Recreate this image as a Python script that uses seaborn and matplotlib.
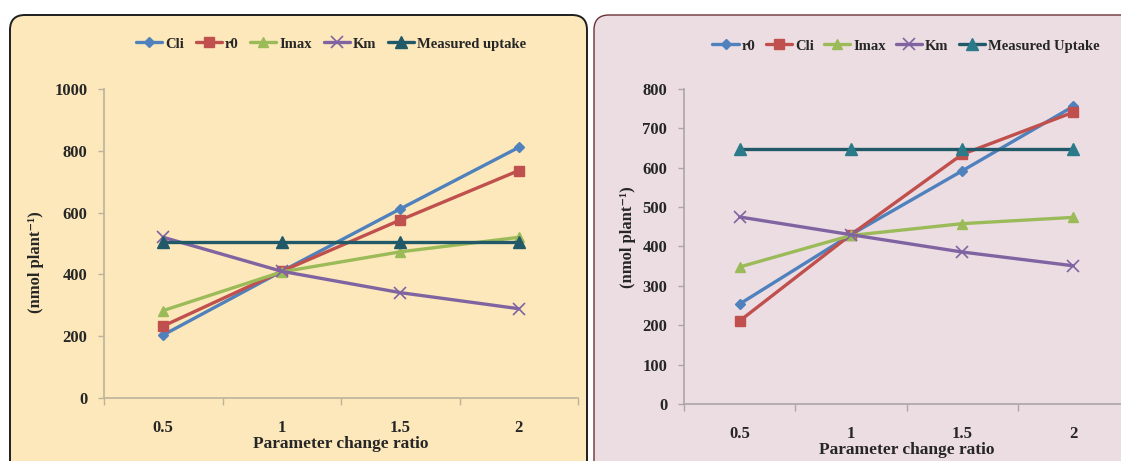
import numpy as np
import pandas as pd
import seaborn as sns
import matplotlib.pyplot as plt
from matplotlib.patches import FancyBboxPatch

# values
ratio_labels = ["0.5", "1", "1.5", "2"]

# left chart
left_cli = [204, 410, 612, 811]
left_r0 = [233, 410, 576, 736]
left_imax = [283, 408, 473, 520]
left_km = [520, 410, 341, 289]
left_measured = [505, 505, 505, 505]

# right chart
right_r0 = [254, 430, 592, 756]
right_cli = [211, 430, 634, 741]
right_imax = [348, 428, 458, 474]
right_km = [475, 430, 386, 351]
right_measured = [647, 647, 647, 647]

sns.set_theme(style="white")
plt.rcParams["font.family"] = ["Liberation Serif", "DejaVu Serif"]
plt.rcParams["font.weight"] = "bold"

W, H = 1121, 461
fig = plt.figure(figsize=(W / 100, H / 100), dpi=100)
fig.patch.set_facecolor("white")

# the two rounded panels behind the charts
fig.patches.append(FancyBboxPatch((0.10, -0.3), 5.77, 4.76,
                                  boxstyle="round,pad=0,rounding_size=0.15",
                                  transform=fig.dpi_scale_trans,
                                  facecolor="#FDE8BB", edgecolor="#1E1E1E", linewidth=1.4, zorder=-5))
fig.patches.append(FancyBboxPatch((5.94, -0.3), 6.0, 4.76,
                                  boxstyle="round,pad=0,rounding_size=0.15",
                                  transform=fig.dpi_scale_trans,
                                  facecolor="#ECDDE3", edgecolor="#6B3338", linewidth=1.0, zorder=-5))

blue, red, green, purple = "#4F81BD", "#C0504D", "#9BBB59", "#8064A2"
teal = "#215968"


def draw(ax, series, ymax, ystep, spine_col, legend_pos, colspacing):
    pos = np.arange(len(ratio_labels))
    for name, vals, col, mk, ms, mfc in series:
        df = pd.DataFrame({"x": pos, "y": vals})
        sns.lineplot(data=df, x="x", y="y", ax=ax, color=col, linewidth=2.4,
                     marker=mk, markersize=ms, markerfacecolor=mfc, markeredgecolor=mfc,
                     markeredgewidth=1.0 if mk != "x" else 1.2, label=name)
    ax.set_facecolor("none")
    ax.set_xlim(-0.5, len(ratio_labels) - 0.5)
    ax.set_ylim(0, ymax)
    ax.set_yticks(np.arange(0, ymax + 1, ystep))
    ax.set_xticks(pos)
    ax.set_xticklabels(ratio_labels)
    ax.set_xticks(np.arange(-0.5, len(ratio_labels), 1), minor=True)
    ax.tick_params(axis="x", which="major", length=0, pad=16, labelsize=12)
    ax.tick_params(axis="x", which="minor", length=5, width=1, color=spine_col, direction="out", bottom=True)
    ax.tick_params(axis="y", which="major", length=4, width=1, color=spine_col, left=True, pad=8, labelsize=12)
    for lbl in ax.get_xticklabels() + ax.get_yticklabels():
        lbl.set_fontweight("bold")
    sns.despine(ax=ax, top=True, right=True)
    for s in ("left", "bottom"):
        ax.spines[s].set_color(spine_col)
        ax.spines[s].set_linewidth(1.2)
    ax.set_xlabel("Parameter change ratio", fontsize=12.5, fontweight="bold", labelpad=0)
    ax.set_ylabel("(nmol plant\u207b\u00b9)", fontsize=12, fontweight="bold")
    leg = ax.legend(loc="center", bbox_to_anchor=legend_pos, bbox_transform=fig.transFigure,
                    ncol=5, frameon=False, fontsize=10.5, handlelength=1.8, handletextpad=0.2,
                    columnspacing=colspacing)
    for t in leg.get_texts():
        t.set_fontweight("bold")


ax1 = fig.add_axes([104 / W, 1 - 398 / H, (578 - 104) / W, (398 - 89) / H])
draw(ax1, [
    ("Cli", left_cli, blue, "D", 5, blue),
    ("r0", left_r0, red, "s", 7.5, red),
    ("Imax", left_imax, green, "^", 7.5, green),
    ("Km", left_km, purple, "x", 8, purple),
    ("Measured uptake", left_measured, teal, "^", 8, teal),
], 1000, 200, "#BDB39B", (331 / W, 1 - 44 / H), 0.8)
ax1.yaxis.set_label_coords(-(104 - 44) / (578 - 104), 0.44)
ax1.xaxis.set_label_coords(0.5, -(436 - 398) / (398 - 89))

ax2 = fig.add_axes([684 / W, 1 - 404 / H, (1129 - 684) / W, (404 - 89) / H])
draw(ax2, [
    ("r0", right_r0, blue, "D", 5, blue),
    ("Cli", right_cli, red, "s", 7.5, red),
    ("Imax", right_imax, green, "^", 7.5, green),
    ("Km", right_km, purple, "x", 8, purple),
    ("Measured Uptake", right_measured, teal, "^", 8, "#2B7A8A"),
], 800, 100, "#ADA5A8", (906 / W, 1 - 46 / H), 0.7)
ax2.yaxis.set_label_coords(-(684 - 636) / (1129 - 684), 0.53)
ax2.xaxis.set_label_coords(0.5, -(442 - 404) / (404 - 89))

plt.savefig("out.png", dpi=100)
